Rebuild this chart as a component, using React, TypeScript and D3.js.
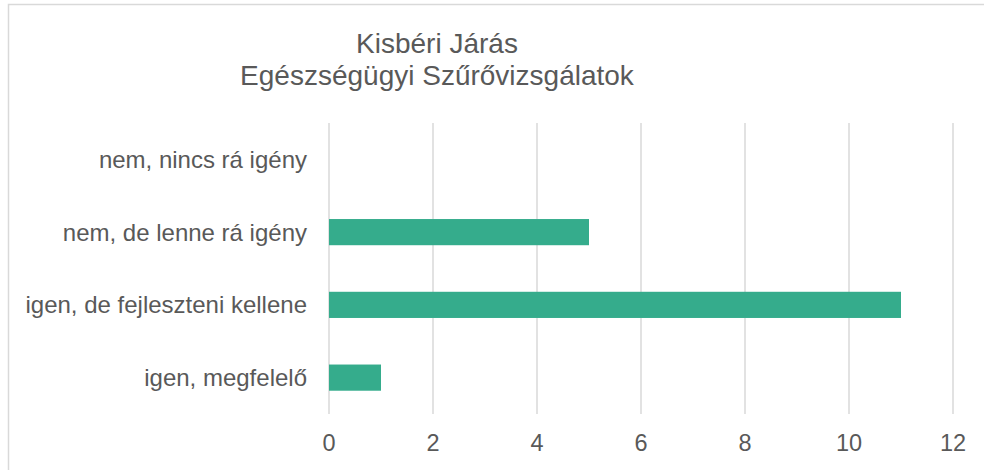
import React from "react";
import * as d3 from "d3";

const categories = [
  "nem, nincs rá igény",
  "nem, de lenne rá igény",
  "igen, de fejleszteni kellene",
  "igen, megfelelő",
];
const values = [0, 5, 11, 1];
const xTicks = [0, 2, 4, 6, 8, 10, 12];
const titleLines = ["Kisbéri Járás", "Egészségügyi Szűrővizsgálatok"];

const W = 984;
const H = 470;
const FONT = "Arial, 'Liberation Sans', sans-serif";
const TEXT = "#595959";
const GRID = "#d9d9d9";
const BAR = "#35ac8c";

export default function App() {
  const x = d3.scaleLinear().domain([0, 12]).range([329, 953]);
  const y = d3
    .scaleBand<string>()
    .domain(categories)
    .range([123, 414])
    .paddingInner(0.64)
    .paddingOuter(0.32);

  return (
    <svg
      width={W}
      height={H}
      style={{ position: "absolute", left: 0, top: 0, background: "#fff" }}
      fontFamily={FONT}
    >
      <rect x={0} y={0} width={W} height={H} fill="#fff" />
      <rect
        x={8.5}
        y={4.5}
        width={W + 20}
        height={H + 20}
        fill="none"
        stroke={GRID}
        strokeWidth={1.5}
      />
      {titleLines.map((t, i) => (
        <text
          key={t}
          x={437}
          y={53 + i * 32}
          textAnchor="middle"
          fontSize={28}
          fill={TEXT}
        >
          {t}
        </text>
      ))}
      {xTicks.map((t) => (
        <g key={t}>
          <line
            x1={x(t)}
            x2={x(t)}
            y1={123}
            y2={414}
            stroke={GRID}
            strokeWidth={1.5}
          />
          <text
            x={x(t)}
            y={451}
            textAnchor="middle"
            fontSize={23.5}
            fill={TEXT}
          >
            {t}
          </text>
        </g>
      ))}
      {categories.map((c, i) => (
        <g key={c}>
          {values[i] > 0 && (
            <rect
              x={x(0)}
              y={y(c)!}
              width={x(values[i]) - x(0)}
              height={y.bandwidth()}
              fill={BAR}
            />
          )}
          <text
            x={307}
            y={y(c)! + y.bandwidth() / 2 + 8.5}
            textAnchor="end"
            fontSize={24}
            fill={TEXT}
          >
            {c}
          </text>
        </g>
      ))}
    </svg>
  );
}
